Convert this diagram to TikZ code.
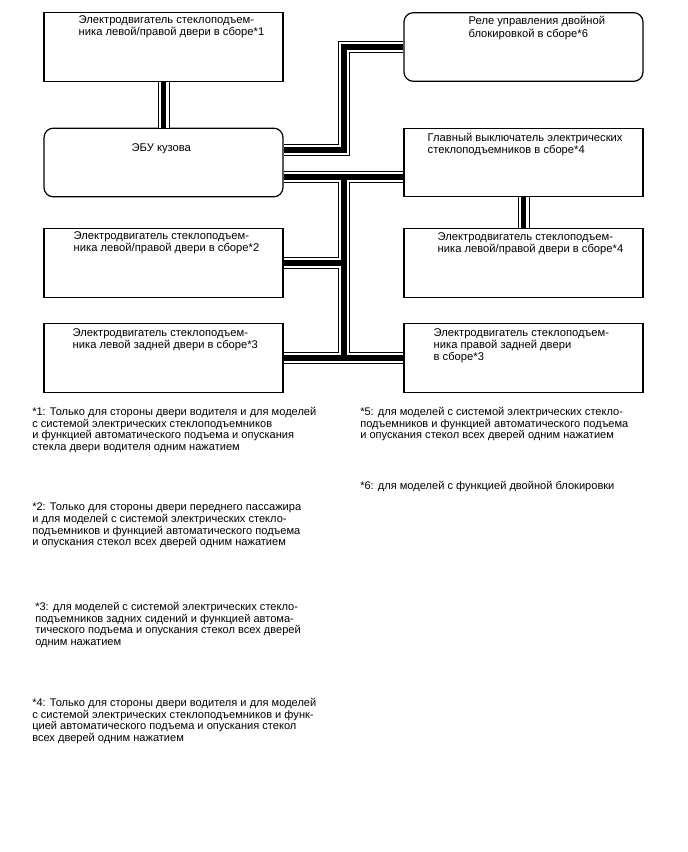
\documentclass[tikz,border=0pt]{standalone}
\usepackage{fontspec}
\setmainfont{Liberation Sans}
\usetikzlibrary{positioning,calc}

\begin{document}
\begin{tikzpicture}[x=0.75pt,y=-0.75pt,
    box/.style={draw, line width=0.9pt, minimum width=179.25pt, minimum height=51.5pt, inner sep=0pt},
    rbox/.style={box, rounded corners=7pt},
    lbl/.style={inner sep=0pt, align=left, font=\fontsize{8.4pt}{9.3pt}\selectfont},
    note/.style={inner sep=0pt, align=left, anchor=north west, font=\fontsize{8.3pt}{8.7pt}\selectfont},
    cable/.style={draw=black, line width=3.8pt,
        preaction={draw=black, line width=9pt},
        preaction={draw=white, line width=7.5pt}}]
\useasboundingbox (0,0) rectangle (688,852);

% blocks
\node[box]  (b1)     at (163.5,47)    {};
\node[rbox] (ecu)    at (163.5,162.5) {};
\node[box]  (l2)     at (163.5,263)   {};
\node[box]  (l3)     at (163.5,358)   {};
\node[rbox] (relay)  at (523.5,47)    {};
\node[box]  (switch) at (523.5,162.5) {};
\node[box]  (r4)     at (523.5,263)   {};
\node[box]  (r5)     at (523.5,358)   {};

\node[lbl, below right=2.25pt and 26.25pt of b1.north west] (b1t)
    {Электродвигатель стеклоподъем-\\ника левой/правой двери в сборе*1};
\node[lbl, below right=12pt and 66pt of ecu.north west] (ecut) {ЭБУ кузова};
\node[lbl, below right=2.25pt and 22.5pt of l2.north west] (l2t)
    {Электродвигатель стеклоподъем-\\ника левой/правой двери в сборе*2};
\node[lbl, below right=3.75pt and 21.75pt of l3.north west] (l3t)
    {Электродвигатель стеклоподъем-\\ника левой задней двери в сборе*3};
\node[lbl, below right=3pt and 48.75pt of relay.north west] (relayt)
    {Реле управления двойной\\блокировкой в сборе*6};
\node[lbl, below right=3.75pt and 18pt of switch.north west] (switcht)
    {Главный выключатель электрических\\стеклоподъемников в сборе*4};
\node[lbl, below right=3pt and 25.5pt of r4.north west] (r4t)
    {Электродвигатель стеклоподъем-\\ника левой/правой двери в сборе*4};
\node[lbl, below right=3.75pt and 22.5pt of r5.north west] (r5t)
    {Электродвигатель стеклоподъем-\\ника правой задней двери\\в сборе*3};

% wiring
\coordinate (bus) at (344,0);
\draw[cable] (b1.south) -- (ecu.north);
\draw[cable] (switch.south) -- (r4.north);
\draw[cable] ($(ecu.east)+(0,-12.5)$) -| (bus |- relay.west) -- (relay.west);
\draw[cable] ($(ecu.east)+(0,14.5)$) coordinate (e2) -- (e2 -| switch.west)
    (bus |- e2) -- (bus |- l3.east)
    (l2.east) -- (bus |- l2.east)
    (l3.east) -- (r5.west);

% footnotes
\node[note] (n1) at (32,407)
    {*1: Только для стороны двери водителя и для моделей\\с системой электрических стеклоподъемников\\и функцией автоматического подъема и опускания\\стекла двери водителя одним нажатием};
\node[note] (n2) at (32,503)
    {*2: Только для стороны двери переднего пассажира\\и для моделей с системой электрических стекло-\\подъемников и функцией автоматического подъема\\и опускания стекол всех дверей одним нажатием};
\node[note] (n3) at (35,602)
    {*3: для моделей с системой электрических стекло-\\подъемников задних сидений и функцией автома-\\тического подъема и опускания стекол всех дверей\\одним нажатием};
\node[note] (n4) at (32,698)
    {*4: Только для стороны двери водителя и для моделей\\с системой электрических стеклоподъемников и функ-\\цией автоматического подъема и опускания стекол\\всех дверей одним нажатием};
\node[note] (n5) at (360,407)
    {*5: для моделей с системой электрических стекло-\\подъемников и функцией автоматического подъема\\и опускания стекол всех дверей одним нажатием};
\node[note] (n6) at (360,481) {*6: для моделей с функцией двойной блокировки};
\end{tikzpicture}
\end{document}
